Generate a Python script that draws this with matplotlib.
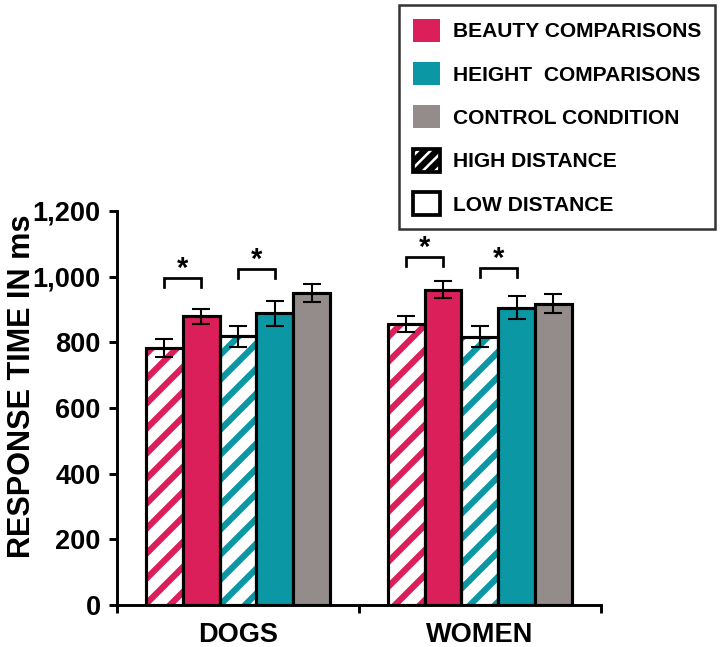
import matplotlib
matplotlib.use('Agg')
import matplotlib.pyplot as plt
from matplotlib.patches import Patch
import numpy as np

plt.rcParams['font.family'] = ['Liberation Sans', 'DejaVu Sans']
plt.rcParams['font.weight'] = 'bold'
plt.rcParams['hatch.linewidth'] = 3.0

groups = ['DOGS', 'WOMEN']
conditions = ['beauty_high', 'beauty_low', 'height_high', 'height_low', 'control']
# response times (ms), one list per group, in the order of conditions
dogs_rt = [783, 880, 819, 889, 950]
women_rt = [856, 960, 817, 905, 917]
dogs_err = [27, 23, 32, 38, 27]
women_err = [24, 26, 32, 35, 29]
# significance brackets: (group index, left bar, right bar, height)
sig_pairs = [(0, 0, 1, 996), (0, 2, 3, 1023), (1, 0, 1, 1060), (1, 2, 3, 1026)]

yticks = [0, 200, 400, 600, 800, 1000, 1200]
ytick_labels = ['0', '200', '400', '600', '800', '1,000', '1,200']

RED = '#DA1F5A'
TEAL = '#0B97A3'
GRAY = '#948C8B'
bar_colors = [RED, RED, TEAL, TEAL, GRAY]
bar_hatched = [True, False, True, False, False]

legend_labels = ['BEAUTY COMPARISONS', 'HEIGHT  COMPARISONS', 'CONTROL CONDITION',
                 'HIGH DISTANCE', 'LOW DISTANCE']

fig = plt.figure(figsize=(4.8, 647 / 150), dpi=150)
ax = fig.add_axes([0.1625, 0.0649, 0.672, 0.609])

width = 0.152
centers = np.array([0.5, 1.5])
all_rt = [dogs_rt, women_rt]
all_err = [dogs_err, women_err]

for g in range(len(groups)):
    xs = centers[g] + (np.arange(5) - 2) * width
    for i in range(5):
        if bar_hatched[i]:
            ax.bar(xs[i], all_rt[g][i], width, facecolor='white', edgecolor=bar_colors[i],
                   hatch='//', linewidth=0, zorder=2)
            ax.bar(xs[i], all_rt[g][i], width, fill=False, edgecolor='black',
                   linewidth=1.5, zorder=3)
        else:
            ax.bar(xs[i], all_rt[g][i], width, color=bar_colors[i], edgecolor='black',
                   linewidth=1.5, zorder=3)
    ax.errorbar(xs, all_rt[g], yerr=all_err[g], fmt='none', ecolor='black',
                elinewidth=1.0, capsize=4.5, capthick=1.0, zorder=4)

for g, a, b, h in sig_pairs:
    xa = centers[g] + (a - 2) * width
    xb = centers[g] + (b - 2) * width
    ax.plot([xa, xa, xb, xb], [h - 27, h, h, h - 27], color='black', linewidth=1.3,
            solid_joinstyle='miter', clip_on=False, zorder=4)
    ax.text((xa + xb) / 2, h + 4, '*', ha='center', va='baseline', fontsize=14,
            fontweight='bold', zorder=5)

ax.set_xlim(0, 2)
ax.set_ylim(0, 1200)
ax.spines['top'].set_visible(False)
ax.spines['right'].set_visible(False)
ax.spines['left'].set_linewidth(1.4)
ax.spines['bottom'].set_linewidth(1.4)

ax.set_yticks(yticks)
ax.set_yticklabels(ytick_labels)
ax.tick_params(axis='y', direction='out', length=3.8, width=1.4, pad=4,
               labelsize=13)
ax.set_xticks(centers)
ax.set_xticklabels(groups)
ax.tick_params(axis='x', which='major', length=0, pad=8, labelsize=13)
ax.set_xticks([0, 1, 2], minor=True)
ax.tick_params(axis='x', which='minor', direction='out', length=4, width=1.4)

ax.set_ylabel('RESPONSE TIME IN ms', fontsize=14.7, fontweight='bold')
ax.yaxis.set_label_coords(-0.165, 0.555)

handles = [
    Patch(facecolor=RED, edgecolor='none'),
    Patch(facecolor=TEAL, edgecolor='none'),
    Patch(facecolor=GRAY, edgecolor='none'),
    Patch(facecolor='white', edgecolor='black', hatch='////', linewidth=1.8),
    Patch(facecolor='white', edgecolor='black', linewidth=1.8),
]
leg = fig.legend(handles, legend_labels, loc='upper right',
                 bbox_to_anchor=(715 / 720, 1 - 5 / 647), bbox_transform=fig.transFigure,
                 fontsize=10.1, frameon=True, fancybox=False, edgecolor='black',
                 handlelength=1.3, handleheight=1.3, handletextpad=0.62,
                 labelspacing=0.97, borderpad=0.65, borderaxespad=0)
leg.get_frame().set_linewidth(1.2)
for t in leg.get_texts():
    t.set_fontweight('bold')

fig.savefig('out.png', dpi=150)
